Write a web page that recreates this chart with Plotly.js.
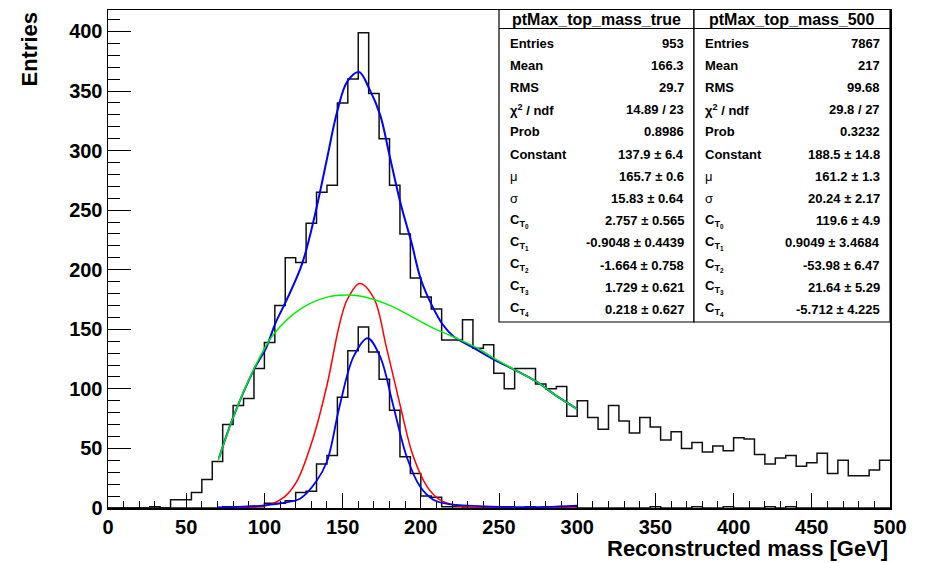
<!DOCTYPE html>
<html>
<head>
<meta charset="utf-8">
<script src="https://cdn.plot.ly/plotly-3.0.1.min.js"></script>
<style>html,body{margin:0;padding:0;background:#fff;}#chart{width:925px;height:563px;}</style>
</head>
<body>
<div id="chart"></div>
<script>
// ---------------- data ----------------
const binLow = 0, binHigh = 500, nBins = 75;

// ptMax_top_mass_500 (all combinations), entries per bin
const mass500 = [0,0,0,0,1,0,7,7,13,24,39,70,86,92,117,139,170,210,206,239,
  265,271,340,360,399,348,310,271,230,193,177,167,141,141,158,134,137,113,100,117,
  117,104,100,102,77,90,76,66,86,73,63,76,68,57,64,50,55,47,52,48,
  59,58,45,37,42,44,35,38,46,29,40,27,27,32,40];

// ptMax_top_mass_true (correct combinations), entries per bin
const massTrue = [0,0,0,0,0,0,0,0,0,0,0,1,1,1,1,4,4,6,13,14,
  37,44,93,132,152,131,108,82,43,29,10,9,1,1,0,0,0,0,1,0,
  1,0,1,0,1,0,0,0,0,0,0,0,1,0,0,0,1,0,0,1,
  0,0,0,1,0,1,0,0,0,0,0,0,0,0,0];

// fit curves
const fit500X = [71,80,94,101,107,114,123,126,133,140,146.5,153,160.5,167,174,180,187,194,200,207.5,214,221,233,249,260,274,288,300];
const fit500Y = [42,76,118,134,155,174,201,213,250,293,332.5,358,366,352,330,296,256,223,192,169,154,144,135,123,116,106,93,83];

const bkg500X = [70.5,80,93,106,123,140,148,161,170,182,195,208,221,238,245,260,274,288,300];
const bkg500Y = [40,76,116,146,167,177,178.5,178,175,169,160,151,143.5,133,127,116,106,93,83];

const gaus500X = [70,85,95,105,113,121,131,140,148,153,161,170,178,187,195,204,212,221,235,250,300];
const gaus500Y = [0,0.2,0.9,3.5,9.5,23,58,103,154,175,188.4,176,135,85,44,18,7,2.5,0.3,0,0];

const fitTrueX = [70,86,100,113,123,133,140,148,157,166,174,182,191,199.5,208,219,230,245,260,280,300];
const fitTrueY = [0.5,1.1,2.2,4.5,8,22,39,85,127,142.5,127,88,43,18,7,3,2,1.2,0.8,0.9,2];

// stats boxes
const statLabels = ["Entries","Mean","RMS","χ<sup>2</sup> / ndf","Prob","Constant","μ","σ",
  "C<sub>T<sub>0</sub></sub>","C<sub>T<sub>1</sub></sub>","C<sub>T<sub>2</sub></sub>",
  "C<sub>T<sub>3</sub></sub>","C<sub>T<sub>4</sub></sub>"];
const statLabelBold = [true,true,true,true,true,true,false,false,true,true,true,true,true];
const trueTitle = "ptMax_top_mass_true";
const trueStats = ["953","166.3","29.7","14.89 / 23","0.8986","137.9 ± 6.4","165.7 ± 0.6","15.83 ± 0.64",
  "2.757 ± 0.565","-0.9048 ± 0.4439","-1.664 ± 0.758","1.729 ± 0.621","0.218 ± 0.627"];
const m500Title = "ptMax_top_mass_500";
const m500Stats = ["7867","217","99.68","29.8 / 27","0.3232","188.5 ± 14.8","161.2 ± 1.3","20.24 ± 2.17",
  "119.6 ± 4.9","0.9049 ± 3.4684","-53.98 ± 6.47","21.64 ± 5.29","-5.712 ± 4.225"];

const xTitle = "Reconstructed mass [GeV]";
const yTitle = "Entries";

// ---------------- build ----------------
const FONT = "Liberation Sans, Arial, Helvetica, sans-serif";
const W = 925, H = 563;
const M = {l:108, r:35, t:10, b:55};
const plotW = W - M.l - M.r, plotH = H - M.t - M.b;
const px = v => (v - M.l) / plotW;
const py = v => (H - M.b - v) / plotH;

function steps(vals){
  const bw = (binHigh - binLow) / nBins;
  const xs = [], ys = [];
  for (let i = 0; i < vals.length; i++){ xs.push(binLow + i*bw); ys.push(vals[i]); }
  xs.push(binHigh); ys.push(vals[vals.length-1]);
  return {xs, ys};
}
const s500 = steps(mass500), sTrue = steps(massTrue);

const traces = [
  {x:s500.xs, y:s500.ys, mode:'lines', line:{shape:'hv', color:'#111', width:1.5}, hoverinfo:'skip'},
  {x:sTrue.xs, y:sTrue.ys, mode:'lines', line:{shape:'hv', color:'#111', width:1.5}, hoverinfo:'skip'},
  {x:gaus500X, y:gaus500Y, mode:'lines', line:{shape:'spline', color:'#ff0000', width:1.5}, hoverinfo:'skip'},
  {x:fitTrueX, y:fitTrueY, mode:'lines', line:{shape:'spline', color:'#0000ff', width:1.8}, hoverinfo:'skip'},
  {x:fit500X, y:fit500Y, mode:'lines', line:{shape:'spline', color:'#0000ff', width:2}, hoverinfo:'skip'},
  {x:bkg500X, y:bkg500Y, mode:'lines', line:{shape:'spline', color:'#00ee00', width:1.5}, hoverinfo:'skip'}
];

const shapes = [], annotations = [];
function txt(x, y, text, xanchor, size, bold, extra){
  return Object.assign({xref:'paper', yref:'paper', x:x, y:y, xanchor:xanchor, yanchor:'middle',
    text:text, showarrow:false,
    font:{family:FONT, size:size, color:'#000', weight: bold ? 'bold' : 'normal'}}, extra || {});
}
function statBox(x0, x1, title, vals){
  const top = 9.5, bottom = 322;
  shapes.push({type:'rect', xref:'paper', yref:'paper', x0:px(x0), x1:px(x1), y0:py(bottom), y1:py(top),
    line:{color:'#000', width:1.2}, fillcolor:'#fff', layer:'above'});
  shapes.push({type:'line', xref:'paper', yref:'paper', x0:px(x0), x1:px(x1), y0:py(28.5), y1:py(28.5),
    line:{color:'#000', width:1}, layer:'above'});
  annotations.push(txt(px((x0+x1)/2), py(19), title, 'center', 16, true));
  for (let i = 0; i < statLabels.length; i++){
    const yy = 43 + i*22.2;
    annotations.push(txt(px(x0+9), py(yy), statLabels[i], 'left', 13, statLabelBold[i]));
    annotations.push(txt(px(x1-8), py(yy), vals[i], 'right', 13, true));
  }
}
statBox(499, 694, trueTitle, trueStats);
statBox(694, 890, m500Title, m500Stats);

annotations.push(txt(1, py(548), xTitle, 'right', 22, true));
annotations.push(txt(px(29), 1, yTitle, 'center', 22, true, {yanchor:'top', textangle:-90}));

const axisCommon = {
  showgrid:false, zeroline:false, showline:true, linecolor:'#000', linewidth:1.5, mirror:true,
  ticks:'inside', tickcolor:'#000', tickwidth:1,
  tickfont:{family:FONT, size:20, color:'#000', weight:'bold'}
};
const layout = {
  width:W, height:H, margin:M, paper_bgcolor:'#fff', plot_bgcolor:'#fff', showlegend:false,
  xaxis:Object.assign({}, axisCommon, {range:[0,500], dtick:50, tick0:0, ticklen:15,
    minor:{ticks:'inside', ticklen:7, dtick:10, tick0:0, tickcolor:'#000', tickwidth:1, showgrid:false}}),
  yaxis:Object.assign({}, axisCommon, {range:[0,418], dtick:50, tick0:0, ticklen:23,
    minor:{ticks:'inside', ticklen:12, dtick:10, tick0:0, tickcolor:'#000', tickwidth:1, showgrid:false}}),
  shapes, annotations
};
Plotly.newPlot('chart', traces, layout, {staticPlot:true, displayModeBar:false});
</script>
</body>
</html>
